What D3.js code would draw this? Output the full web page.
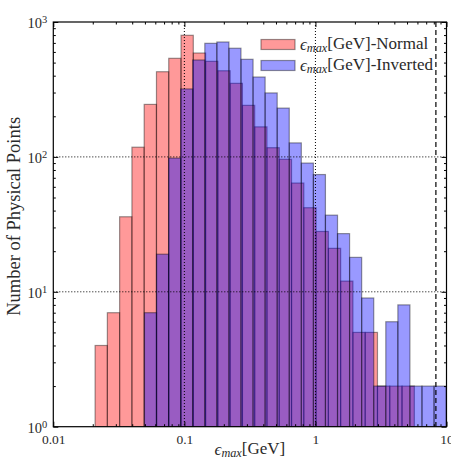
<!DOCTYPE html>
<html>
<head>
<meta charset="utf-8">
<script src="https://cdn.jsdelivr.net/npm/d3@7"></script>
<style>
  body { margin: 0; background: #fff; }
  text { font-family: "Liberation Serif", "DejaVu Serif", serif; fill: #2a2a2a; }
</style>
</head>
<body>
<div id="chart"></div>
<script>
// histogram bin edges (GeV) and counts
var edgesNormal = [0.02084, 0.02585, 0.03207, 0.03980, 0.04936, 0.06126, 0.07599, 0.09430,
  0.1170, 0.1452, 0.1801, 0.2235, 0.2773, 0.3440, 0.4269, 0.5296, 0.6571, 0.8152,
  1.012, 1.255, 1.557, 1.932, 2.397, 2.974, 3.691, 4.579, 5.683];
var countsNormal = [4, 7, 36, 118, 245, 428, 538, 797, 589, 511, 435, 351, 241, 167,
  117, 96, 64, 42, 28, 21, 12, 5, 5, 2, 2, 2];

var edgesInverted = [0.04960, 0.06133, 0.07580, 0.09369, 0.1158, 0.1432, 0.1770, 0.2188,
  0.2704, 0.3343, 0.4132, 0.5108, 0.6314, 0.7805, 0.9647, 1.192, 1.474, 1.822,
  2.253, 2.785, 3.442, 4.255, 5.260, 6.501, 8.037, 9.936];
var countsInverted = [7, 19, 98, 319, 523, 695, 711, 639, 529, 391, 298, 230, 127, 90,
  74, 37, 27, 18, 9, 2, 6, 8, 2, 2, 2];

var xTicks = [0.01, 0.1, 1, 10];
var xTickLabels = ["0.01", "0.1", "1", "10"];
var yTicks = [1, 10, 100, 1000];
var yTickExponents = ["0", "1", "2", "3"];
var xGrid = [0.1, 1];
var yGrid = [10, 100];
var cutLine = 8.3;

var seriesNames = ["Normal", "Inverted"];

var svgWidth = 451;
var svgHeight = 462;
var margin = { top: 22, right: 4.5, bottom: 35.3, left: 53.3 };
var width = svgWidth - margin.left - margin.right;
var height = svgHeight - margin.top - margin.bottom;

var svg = d3.select("#chart")
  .append("svg")
  .attr("width", svgWidth)
  .attr("height", svgHeight);

var chartGroup = svg.append("g")
  .attr("transform", `translate(${margin.left}, ${margin.top})`);

chartGroup.append("clipPath")
  .attr("id", "plotclip")
  .append("rect")
  .attr("width", width)
  .attr("height", height);

var x = d3.scaleLog().domain([0.01, 10]).range([0, width]);
var y = d3.scaleLog().domain([1, 1000]).range([height, 0]);

// bars
function bins(edges, counts) {
  return counts.map((c, i) => ({ x0: edges[i], x1: edges[i + 1], n: c }));
}

var plot = chartGroup.append("g").attr("clip-path", "url(#plotclip)");

var colors = ["rgb(255,0,0)", "rgb(0,0,255)"];
[bins(edgesNormal, countsNormal), bins(edgesInverted, countsInverted)].forEach(function(data, s) {
  plot.append("g")
    .selectAll("rect")
    .data(data)
    .enter()
    .append("rect")
    .attr("x", d => x(d.x0))
    .attr("width", d => x(d.x1) - x(d.x0))
    .attr("y", d => y(d.n))
    .attr("height", d => height - y(d.n))
    .attr("fill", colors[s])
    .attr("fill-opacity", 0.4)
    .attr("stroke", "#000")
    .attr("stroke-opacity", 0.4)
    .attr("stroke-width", 1.2);
});

// grid
plot.selectAll(".xgrid")
  .data(xGrid)
  .enter()
  .append("line")
  .attr("x1", d => x(d)).attr("x2", d => x(d))
  .attr("y1", 0).attr("y2", height)
  .attr("stroke", "#000")
  .attr("stroke-width", 1)
  .attr("stroke-dasharray", "1,2");

plot.selectAll(".ygrid")
  .data(yGrid)
  .enter()
  .append("line")
  .attr("x1", 0).attr("x2", width)
  .attr("y1", d => y(d)).attr("y2", d => y(d))
  .attr("stroke", "#000")
  .attr("stroke-width", 1)
  .attr("stroke-dasharray", "1,2");

plot.append("line")
  .attr("x1", x(cutLine)).attr("x2", x(cutLine))
  .attr("y1", 0).attr("y2", height)
  .attr("stroke", "#000")
  .attr("stroke-width", 1.2)
  .attr("stroke-dasharray", "5,3");

// axes, ticks pointing inwards on all four sides
var xMinor = x.ticks().filter(t => xTicks.indexOf(t) < 0);
var yMinor = y.ticks().filter(t => yTicks.indexOf(t) < 0);

function styleAxis(g) {
  g.select(".domain").remove();
  g.selectAll(".tick line").attr("stroke", "#000").attr("stroke-width", 1);
}

chartGroup.append("g")
  .attr("transform", `translate(0, ${height})`)
  .call(d3.axisBottom(x).tickValues(xTicks).tickSize(-5).tickPadding(8)
    .tickFormat((d, i) => xTickLabels[i]))
  .call(styleAxis)
  .selectAll("text").attr("font-size", 13.5);

chartGroup.append("g")
  .attr("transform", `translate(0, ${height})`)
  .call(d3.axisBottom(x).tickValues(xMinor).tickSize(-2.5).tickFormat(""))
  .call(styleAxis);

chartGroup.append("g")
  .call(d3.axisTop(x).tickValues(xTicks).tickSize(-5).tickFormat(""))
  .call(styleAxis);
chartGroup.append("g")
  .call(d3.axisTop(x).tickValues(xMinor).tickSize(-2.5).tickFormat(""))
  .call(styleAxis);

var yAxis = chartGroup.append("g")
  .call(d3.axisLeft(y).tickValues(yTicks).tickSize(-5).tickPadding(6).tickFormat(""))
  .call(styleAxis);

yAxis.selectAll(".tick text")
  .attr("font-size", 14.5)
  .attr("dy", "0.4em")
  .each(function(d, i) {
    var t = d3.select(this);
    t.append("tspan").text("10");
    t.append("tspan").attr("dy", "-0.5em").attr("font-size", 10.5).text(yTickExponents[i]);
  });

chartGroup.append("g")
  .call(d3.axisLeft(y).tickValues(yMinor).tickSize(-2.5).tickFormat(""))
  .call(styleAxis);

chartGroup.append("g")
  .attr("transform", `translate(${width}, 0)`)
  .call(d3.axisRight(y).tickValues(yTicks).tickSize(-5).tickFormat(""))
  .call(styleAxis);
chartGroup.append("g")
  .attr("transform", `translate(${width}, 0)`)
  .call(d3.axisRight(y).tickValues(yMinor).tickSize(-2.5).tickFormat(""))
  .call(styleAxis);

// frame
chartGroup.append("rect")
  .attr("width", width)
  .attr("height", height)
  .attr("fill", "none")
  .attr("stroke", "#000")
  .attr("stroke-width", 1.2);

// epsilon_max label helper
function epsLabel(sel, rest) {
  sel.append("tspan").attr("font-style", "italic").text("\u03F5");
  sel.append("tspan").attr("font-style", "italic").attr("font-size", "0.72em")
    .attr("dy", "0.2em").text("max");
  sel.append("tspan").attr("dy", "-0.2em").text(rest);
}

// axes labels
svg.append("text")
  .attr("x", margin.left + width / 2)
  .attr("y", 455)
  .attr("text-anchor", "middle")
  .attr("font-size", 17)
  .call(epsLabel, "[GeV]");

svg.append("text")
  .attr("transform", `translate(20, ${margin.top + height / 2 - 8}) rotate(-90)`)
  .attr("text-anchor", "middle")
  .attr("font-size", 18.5)
  .text("Number of Physical Points");

// legend
var legend = svg.append("g").attr("transform", "translate(261, 39.5)");
seriesNames.forEach(function(name, i) {
  var row = legend.append("g").attr("transform", `translate(0, ${i * 21})`);
  row.append("rect")
    .attr("width", 34).attr("height", 10)
    .attr("fill", colors[i]).attr("fill-opacity", 0.4)
    .attr("stroke", "#000").attr("stroke-opacity", 0.4).attr("stroke-width", 1.2);
  row.append("text")
    .attr("x", 39).attr("y", 10.5)
    .attr("font-size", 17)
    .call(epsLabel, "[GeV]-" + name);
});
</script>
</body>
</html>
